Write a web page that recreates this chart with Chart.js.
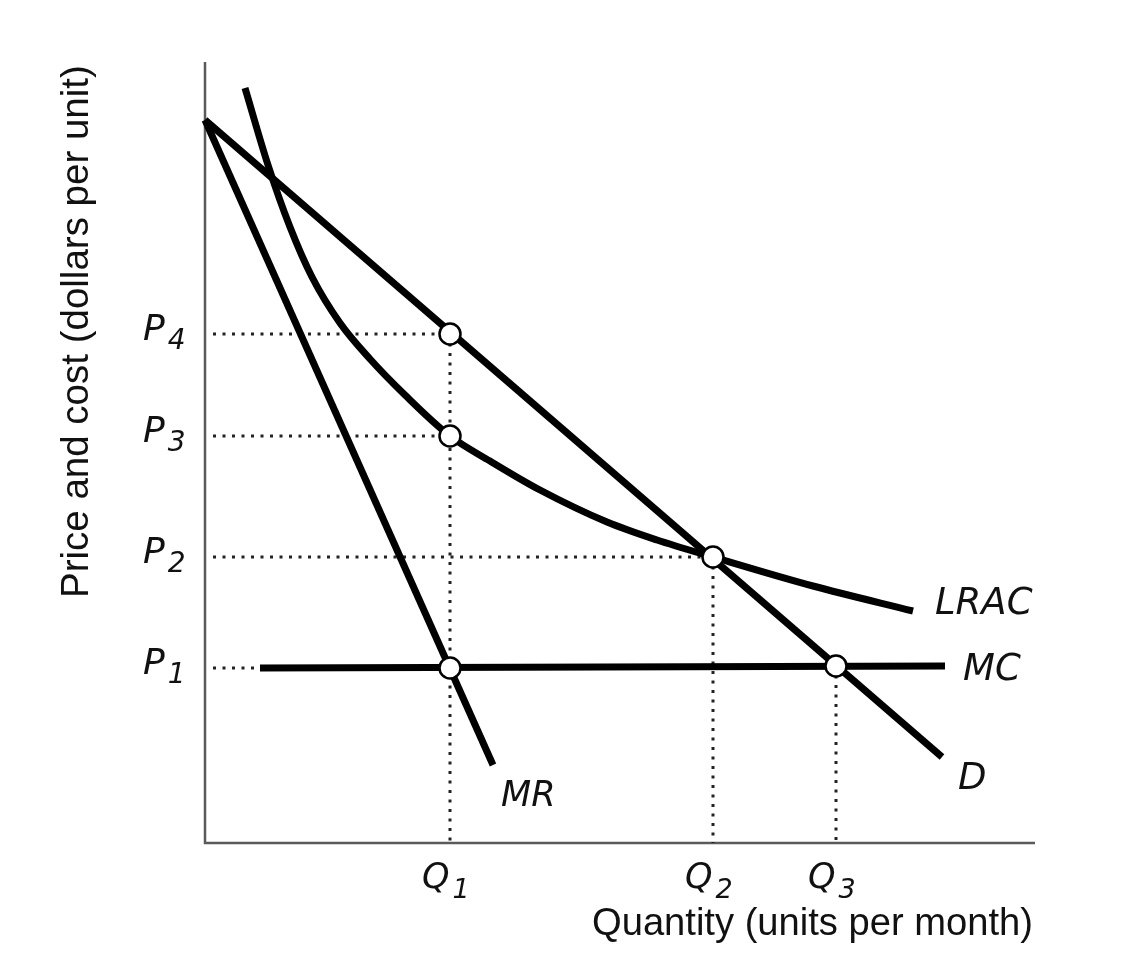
<!DOCTYPE html>
<html>
<head>
<meta charset="utf-8">
<script src="https://cdn.jsdelivr.net/npm/chart.js@4.4.1/dist/chart.umd.min.js"></script>
<style>
html,body{margin:0;padding:0;background:#fff;}
#wrap{width:1148px;height:968px;}
</style>
</head>
<body>
<div id="wrap"><canvas id="c" width="1148" height="968"></canvas></div>
<script>
// ---- data (abstract quantity / price units) ----
const demandX = [0, 737];
const demandY = [723, 86];
const mrX = [0, 288];
const mrY = [723, 78];
const mcX = [55, 740];
const mcY = [175, 177];
const lracX = [40, 63, 85, 107, 135, 165, 200, 245, 285, 335, 402, 452, 508, 608, 708];
const lracY = [755, 678, 616, 566, 520, 484, 448, 407, 382, 353, 321, 303, 286, 257, 232];
const markX = [245, 245, 508, 245, 631];
const markY = [509, 407, 286, 175, 177];
const yTickValues = [175, 286, 407, 509];
const yTickLabels = ['P1', 'P2', 'P3', 'P4'];
const yGuideEnd = [55, 508, 245, 245];
const xTickValues = [245, 508, 631];
const xTickLabels = ['Q1', 'Q2', 'Q3'];
const xGuideTop = [509, 286, 177];
const xMax = 830, yMax = 781;
const xTitle = 'Quantity (units per month)';
const yTitle = 'Price and cost (dollars per unit)';
const curveNames = ['D', 'MR', 'MC', 'LRAC'];

const pts = (xs, ys) => xs.map((x, i) => ({x: x, y: ys[i]}));

const datasets = [];
// markers
datasets.push({label: 'marks', data: pts(markX, markY), showLine: false, pointRadius: 10.5,
  pointBackgroundColor: '#fff', pointBorderColor: '#000', pointBorderWidth: 2.5, order: 0, clip: false});
// curves
const lineStyle = {showLine: true, pointRadius: 0, borderColor: '#000', borderWidth: 7,
  borderCapStyle: 'butt', borderJoinStyle: 'round', fill: false, order: 1, clip: false};
datasets.push(Object.assign({label: 'D', data: pts(demandX, demandY)}, lineStyle));
datasets.push(Object.assign({label: 'MR', data: pts(mrX, mrY)}, lineStyle));
datasets.push(Object.assign({label: 'MC', data: pts(mcX, mcY)}, lineStyle));
datasets.push(Object.assign({label: 'LRAC', data: pts(lracX, lracY), cubicInterpolationMode: 'monotone'}, lineStyle));
// dotted guides
const guideStyle = {showLine: true, pointRadius: 0, borderColor: '#222', borderWidth: 3,
  borderDash: [3, 6.5], borderCapStyle: 'butt', fill: false, order: 2, clip: false};
yTickValues.forEach((v, i) => {
  datasets.push(Object.assign({label: 'gh' + i, data: [{x: 8, y: v}, {x: yGuideEnd[i], y: v}]}, guideStyle));
});
xTickValues.forEach((v, i) => {
  datasets.push(Object.assign({label: 'gv' + i, data: [{x: v, y: xGuideTop[i]}, {x: v, y: 0}]}, guideStyle));
});
// axes
datasets.push({label: 'axes', data: [{x: 0, y: yMax}, {x: 0, y: 0}, {x: xMax, y: 0}], showLine: true,
  pointRadius: 0, borderColor: '#5a5a5a', borderWidth: 2.5, borderCapStyle: 'butt', fill: false, order: 3, clip: false});

function fitFont(ctx, text, width, family, weight) {
  let size = 40;
  ctx.font = weight + ' ' + size + 'px ' + family;
  const w = ctx.measureText(text).width;
  size = size * width / w;
  return weight + ' ' + size.toFixed(2) + 'px ' + family;
}

function subLabel(ctx, text, x, baseline, mainSize, subSize, subDrop) {
  ctx.font = 'italic ' + mainSize + 'px "DejaVu Sans"';
  ctx.textAlign = 'left';
  ctx.textBaseline = 'alphabetic';
  const main = text.charAt(0);
  ctx.fillText(main, x, baseline);
  const w = ctx.measureText(main).width;
  ctx.font = 'italic ' + subSize + 'px "DejaVu Sans"';
  ctx.fillText(text.slice(1), x + w + 3, baseline + subDrop);
}

const textPlugin = {
  id: 'texts',
  afterDraw(chart) {
    const ctx = chart.ctx;
    const xs = chart.scales.x, ys = chart.scales.y;
    ctx.save();
    ctx.fillStyle = '#111';
    // y tick labels
    yTickValues.forEach((v, i) => {
      const py = ys.getPixelForValue(v);
      subLabel(ctx, yTickLabels[i], 143, py + 6, 36, 28, 9);
    });
    // x tick labels
    xTickValues.forEach((v, i) => {
      const px = xs.getPixelForValue(v);
      subLabel(ctx, xTickLabels[i], px - 28, 888, 35, 27, 10);
    });
    // curve labels
    const ends = {
      D: [demandX[demandX.length - 1], demandY[demandY.length - 1], 16, 32],
      MR: [mrX[mrX.length - 1], mrY[mrY.length - 1], 8, 41],
      MC: [mcX[mcX.length - 1], mcY[mcY.length - 1], 18, 14],
      LRAC: [lracX[lracX.length - 1], lracY[lracY.length - 1], 22, 3]
    };
    ctx.textAlign = 'left';
    ctx.textBaseline = 'alphabetic';
    curveNames.forEach(n => {
      const e = ends[n];
      const px = xs.getPixelForValue(e[0]) + e[2];
      const py = ys.getPixelForValue(e[1]) + e[3];
      ctx.font = 'italic ' + (n === 'MR' ? 35 : 37) + 'px "DejaVu Sans"';
      ctx.fillText(n, px, py);
    });
    // axis titles
    ctx.font = fitFont(ctx, xTitle, 441, '"Liberation Sans"', 'normal');
    ctx.textAlign = 'left';
    ctx.fillText(xTitle, 592, 935);
    ctx.translate(88, 598);
    ctx.rotate(-Math.PI / 2);
    ctx.font = fitFont(ctx, yTitle, 533, '"Liberation Sans"', 'normal');
    ctx.fillText(yTitle, 0, 0);
    ctx.restore();
  }
};

new Chart(document.getElementById('c'), {
  type: 'scatter',
  data: {datasets: datasets},
  options: {
    responsive: false,
    animation: false,
    events: [],
    layout: {padding: {left: 205, right: 1148 - 1035, top: 62, bottom: 968 - 843}},
    scales: {
      x: {type: 'linear', min: 0, max: xMax, display: false},
      y: {type: 'linear', min: 0, max: yMax, display: false}
    },
    plugins: {legend: {display: false}, tooltip: {enabled: false}}
  },
  plugins: [textPlugin]
});
</script>
</body>
</html>
